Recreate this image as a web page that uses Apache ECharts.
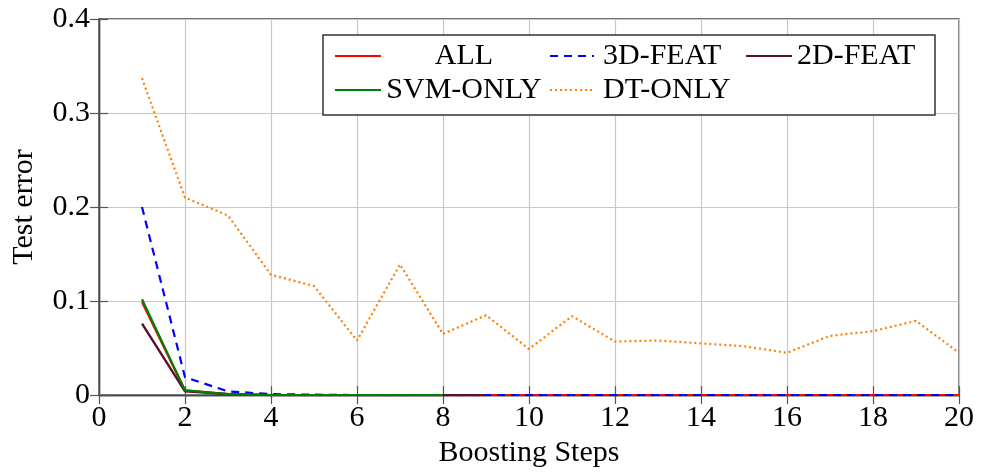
<!DOCTYPE html>
<html>
<head>
<meta charset="utf-8">
<script src="https://cdn.jsdelivr.net/npm/echarts@6/dist/echarts.min.js"></script>
<style>html,body{margin:0;padding:0;background:#fff}#c{width:981px;height:473px}</style>
</head>
<body>
<div id="c"></div>
<script>
var steps = [1,2,3,4,5,6,7,8,9,10,11,12,13,14,15,16,17,18,19,20];
var allVals = [0.099,0.005,0.001,0,0,0,0,0,0,0,0,0,0,0,0,0,0,0,0,0];
var feat3d = [0.200,0.019,0.004,0.001,0.0005,0,0,0,0,0,0,0,0,0,0,0,0,0,0,0];
var feat2d = [0.076,0.004,0.001,0,0,0,0,0,0];
var svmOnly = [0.102,0.005,0.001,0,0,0,0,0];
var dtOnly = [0.337,0.210,0.191,0.128,0.116,0.058,0.139,0.065,0.085,0.049,0.084,0.057,0.058,0.055,0.052,0.045,0.063,0.068,0.079,0.045];
var xTicks = [0,2,4,6,8,10,12,14,16,18,20];
var yTicks = [0,0.1,0.2,0.3,0.4];

function pairs(vals){ return vals.map(function(v,i){ return [steps[i], v]; }); }

var FONT = 'Liberation Serif';
var FS = 30;
var chart = echarts.init(document.getElementById('c'));

var axisCommonX = { type:'value', min:0, max:20, interval:2 };
var axisCommonY = { type:'value', min:0, max:0.4, interval:0.1 };
var tickStyle = {show:true, inside:true, length:9, lineStyle:{color:'#555', width:1.2}};
var lineSt = {show:true, lineStyle:{color:'#444', width:1.3}};

var legendCommon = {
  orient:'vertical', top:41, padding:0, itemHeight:14, itemGap:4, z:5,
  itemStyle:{opacity:0, borderWidth:0}
};

var option = {
  animation:false,
  backgroundColor:'#fff',
  grid:{left:99, right:22, top:19, bottom:77, show:true, borderColor:'#444', borderWidth:1.3},
  xAxis:[
    Object.assign({}, axisCommonX, {
      position:'bottom',
      name:'Boosting Steps', nameLocation:'middle', nameGap:42,
      nameTextStyle:{fontFamily:FONT, fontSize:FS, color:'#000'},
      axisLine:lineSt, axisTick:tickStyle,
      axisLabel:{fontFamily:FONT, fontSize:FS, color:'#000', margin:8,
        formatter:function(v){ return xTicks.indexOf(v)>=0 ? String(v) : ''; }},
      splitLine:{show:true, lineStyle:{color:'#c8c8c8', width:1.2}}
    }),
    Object.assign({}, axisCommonX, {
      position:'top', axisLine:lineSt, axisTick:tickStyle,
      axisLabel:{show:false}, splitLine:{show:false}
    })
  ],
  yAxis:[
    Object.assign({}, axisCommonY, {
      position:'left',
      name:'Test error', nameLocation:'middle', nameGap:60, nameRotate:90,
      nameTextStyle:{fontFamily:FONT, fontSize:FS, color:'#000'},
      axisLine:lineSt, axisTick:tickStyle,
      axisLabel:{fontFamily:FONT, fontSize:FS, color:'#000', margin:9,
        formatter:function(v){ var r=Math.round(v*10)/10; return yTicks.indexOf(r)>=0 ? String(r) : ''; }},
      splitLine:{show:true, lineStyle:{color:'#c8c8c8', width:1.2}}
    }),
    Object.assign({}, axisCommonY, {
      position:'right', axisLine:lineSt, axisTick:tickStyle,
      axisLabel:{show:false}, splitLine:{show:false}
    })
  ],
  graphic:[{
    type:'rect', z:3,
    shape:{x:323, y:35, width:612, height:80},
    style:{fill:'#fff', stroke:'#333', lineWidth:1.5}
  }],
  legend:[
    Object.assign({}, legendCommon, {
      data:['ALL','SVM-ONLY'], left:334, itemWidth:46,
      formatter:'{a|{name}}',
      textStyle:{rich:{a:{width:156, align:'center', fontFamily:FONT, fontSize:FS, color:'#000', lineHeight:32}}}
    }),
    Object.assign({}, legendCommon, {
      data:['3D-FEAT','DT-ONLY'], left:549, itemWidth:44,
      formatter:'{a|{name}}',
      textStyle:{rich:{a:{padding:[0,0,0,4], fontFamily:FONT, fontSize:FS, color:'#000', lineHeight:32}}}
    }),
    Object.assign({}, legendCommon, {
      data:['2D-FEAT'], left:745, itemWidth:46,
      formatter:'{a|{name}}',
      textStyle:{rich:{a:{fontFamily:FONT, fontSize:FS, color:'#000', lineHeight:32}}}
    })
  ],
  series:[
    {name:'ALL', type:'line', data:pairs(allVals), symbol:'none', color:'#ff0000',
      lineStyle:{color:'#ff0000', width:2.2}},
    {name:'3D-FEAT', type:'line', data:pairs(feat3d), symbol:'none', color:'#0000ff',
      lineStyle:{color:'#0000ff', width:2.2, type:[8,6]}},
    {name:'2D-FEAT', type:'line', data:pairs(feat2d), symbol:'none', color:'#5e0f2e',
      lineStyle:{color:'#5e0f2e', width:2.4}},
    {name:'SVM-ONLY', type:'line', data:pairs(svmOnly), symbol:'none', color:'#008000',
      lineStyle:{color:'#008000', width:2.2}},
    {name:'DT-ONLY', type:'line', data:pairs(dtOnly), symbol:'none', color:'#ff8000',
      lineStyle:{color:'#ff8000', width:2.2, type:[2,3]}}
  ]
};
chart.setOption(option);
</script>
</body>
</html>
